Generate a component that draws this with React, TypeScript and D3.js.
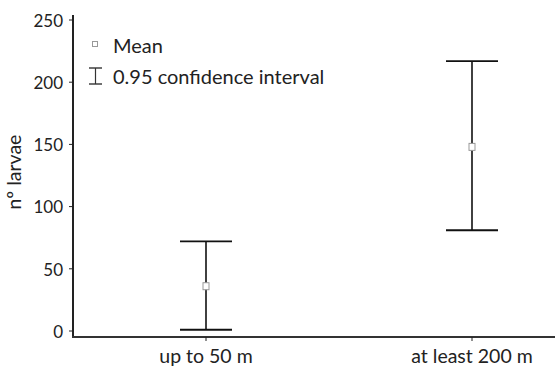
import React from "react";
import * as d3 from "d3";

const categories = ["up to 50 m", "at least 200 m"];
const means = [36, 148];
const lowers = [1, 81];
const uppers = [72, 217];
const yTicks = [0, 50, 100, 150, 200, 250];

const W = 555, H = 366;
const FONT = "Lato, 'Open Sans', sans-serif";

export default function App() {
  const y = d3.scaleLinear().domain([0, 250]).range([331, 20]);
  const x = d3.scalePoint<string>().domain(categories).range([206, 472]).padding(0);
  const axisX = 73, axisY = 337;
  const capHalf = 26;
  return (
    <svg width={W} height={H} style={{ position: "absolute", left: 0, top: 0 }}>
      <rect width={W} height={H} fill="#fff" />
      {/* y axis */}
      <line x1={axisX} x2={axisX} y1={15} y2={axisY} stroke="#222" strokeWidth={2} />
      {yTicks.map((t) => (
        <g key={t}>
          <line x1={axisX - 4} x2={axisX} y1={y(t)} y2={y(t)} stroke="#222" strokeWidth={1} />
          <text x={63} y={y(t)} dy="0.4em" textAnchor="end" fontFamily={FONT} fontSize={17} fill="#222">{t}</text>
        </g>
      ))}
      {/* x axis */}
      <line x1={axisX - 1} x2={W} y1={axisY} y2={axisY} stroke="#333" strokeWidth={2} />
      {categories.map((c) => (
        <g key={c}>
          <line x1={x(c)!} x2={x(c)!} y1={axisY} y2={axisY + 4} stroke="#222" strokeWidth={1} />
          <text x={x(c)!} y={363} textAnchor="middle" fontFamily={FONT} fontSize={19.5} fill="#222">{c}</text>
        </g>
      ))}
      <text transform={`translate(21,172) rotate(-90)`} textAnchor="middle" fontFamily={FONT} fontSize={19.5} fill="#222">nº larvae</text>
      {/* error bars */}
      {categories.map((c, i) => {
        const cx = x(c)!;
        return (
          <g key={"e" + c}>
            <line x1={cx} x2={cx} y1={y(uppers[i])} y2={y(lowers[i])} stroke="#111" strokeWidth={1.6} />
            <line x1={cx - capHalf} x2={cx + capHalf} y1={y(uppers[i])} y2={y(uppers[i])} stroke="#111" strokeWidth={1.8} />
            <line x1={cx - capHalf} x2={cx + capHalf} y1={y(lowers[i])} y2={y(lowers[i])} stroke="#111" strokeWidth={1.8} />
            <rect x={cx - 3} y={y(means[i]) - 3.5} width={6} height={7} fill="#fff" stroke="#999" strokeWidth={1} />
          </g>
        );
      })}
      {/* legend */}
      <rect x={92.5} y={41.5} width={5} height={5} fill="#fff" stroke="#999" strokeWidth={1} />
      <text x={113} y={53} fontFamily={FONT} fontSize={20} fill="#222">Mean</text>
      <line x1={95.5} x2={95.5} y1={68} y2={84} stroke="#333" strokeWidth={1.2} />
      <line x1={89} x2={102} y1={68} y2={68} stroke="#333" strokeWidth={1.4} />
      <line x1={89} x2={102} y1={84} y2={84} stroke="#333" strokeWidth={1.4} />
      <text x={113} y={84} fontFamily={FONT} fontSize={20} fill="#222">0.95 confidence interval</text>
    </svg>
  );
}
